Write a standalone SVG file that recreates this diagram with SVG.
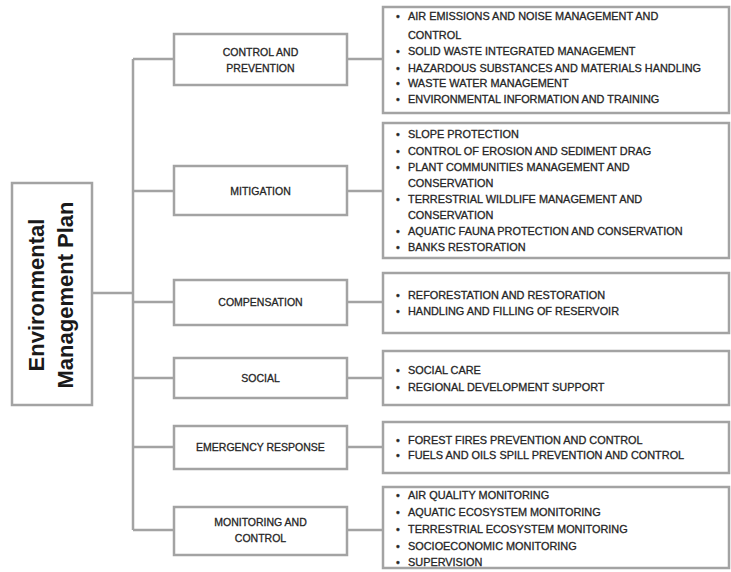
<svg xmlns="http://www.w3.org/2000/svg" width="731" height="572" viewBox="0 0 731 572">
<style>
.box{fill:#fff;stroke:#a3a3a3;stroke-width:2.5}
.ln{fill:none;stroke:#a3a3a3;stroke-width:2.5}
.cat{font-family:"Liberation Sans",Arial,sans-serif;font-size:10.5px;fill:#262626;stroke:#262626;stroke-width:0.3;text-anchor:middle}
.it{font-family:"Liberation Sans",Arial,sans-serif;font-size:10.9px;fill:#262626;stroke:#262626;stroke-width:0.3}
.root{font-family:"Liberation Sans",Arial,sans-serif;font-size:22px;font-weight:bold;fill:#1a1a1a;text-anchor:middle}
</style>
<rect width="731" height="572" fill="#fff"/>
<g id="connectors">
<path class="ln" d="M92 293H133M133 59V530M133 59H174M133 191H174M133 302H174M133 378H174M133 447H174M133 530H174"/>
<path class="ln" d="M347 59H383M347 191H383M347 302H383M347 378H383M347 447H383M347 530H383"/>
</g>
<g id="root">
<rect class="box" x="12" y="183" width="80" height="222"/>
<text class="root" transform="translate(44 295) rotate(-90)">Environmental</text>
<text class="root" transform="translate(73 295) rotate(-90)">Management Plan</text>
</g>
<g id="cat-control">
<rect class="box" x="174" y="34" width="173" height="51"/>
<text class="cat" x="260.5" y="55.5">CONTROL AND</text>
<text class="cat" x="260.5" y="71.5">PREVENTION</text>
</g>
<g id="cat-mitigation">
<rect class="box" x="174" y="166" width="173" height="49"/>
<text class="cat" x="260.5" y="195">MITIGATION</text>
</g>
<g id="cat-compensation">
<rect class="box" x="174" y="280" width="173" height="45"/>
<text class="cat" x="260.5" y="306">COMPENSATION</text>
</g>
<g id="cat-social">
<rect class="box" x="174" y="358" width="173" height="40"/>
<text class="cat" x="260.5" y="382">SOCIAL</text>
</g>
<g id="cat-emergency">
<rect class="box" x="174" y="426" width="173" height="43"/>
<text class="cat" x="260.5" y="451">EMERGENCY RESPONSE</text>
</g>
<g id="cat-monitoring">
<rect class="box" x="174" y="507" width="173" height="48"/>
<text class="cat" x="260.5" y="526">MONITORING AND</text>
<text class="cat" x="260.5" y="542">CONTROL</text>
</g>
<g id="list-control">
<rect class="box" x="383" y="7" width="346" height="106"/>
<text class="it" x="396" y="20">•</text><text class="it" x="408" y="20">AIR EMISSIONS AND NOISE MANAGEMENT AND</text>
<text class="it" x="408" y="38.7">CONTROL</text>
<text class="it" x="396" y="55">•</text><text class="it" x="408" y="55">SOLID WASTE INTEGRATED MANAGEMENT</text>
<text class="it" x="396" y="71.7">•</text><text class="it" x="408" y="71.7">HAZARDOUS SUBSTANCES AND MATERIALS HANDLING</text>
<text class="it" x="396" y="87.3">•</text><text class="it" x="408" y="87.3">WASTE WATER MANAGEMENT</text>
<text class="it" x="396" y="103.3">•</text><text class="it" x="408" y="103.3">ENVIRONMENTAL INFORMATION AND TRAINING</text>
</g>
<g id="list-mitigation">
<rect class="box" x="383" y="123" width="346" height="135"/>
<text class="it" x="396" y="138.3">•</text><text class="it" x="408" y="138.3">SLOPE PROTECTION</text>
<text class="it" x="396" y="154.5">•</text><text class="it" x="408" y="154.5">CONTROL OF EROSION AND SEDIMENT DRAG</text>
<text class="it" x="396" y="170.7">•</text><text class="it" x="408" y="170.7">PLANT COMMUNITIES MANAGEMENT AND</text>
<text class="it" x="408" y="186.7">CONSERVATION</text>
<text class="it" x="396" y="203">•</text><text class="it" x="408" y="203">TERRESTRIAL WILDLIFE MANAGEMENT AND</text>
<text class="it" x="408" y="219">CONSERVATION</text>
<text class="it" x="396" y="234.7">•</text><text class="it" x="408" y="234.7">AQUATIC FAUNA PROTECTION AND CONSERVATION</text>
<text class="it" x="396" y="250.7">•</text><text class="it" x="408" y="250.7">BANKS RESTORATION</text>
</g>
<g id="list-compensation">
<rect class="box" x="383" y="273" width="346" height="60"/>
<text class="it" x="396" y="298.5">•</text><text class="it" x="408" y="298.5">REFORESTATION AND RESTORATION</text>
<text class="it" x="396" y="314.7">•</text><text class="it" x="408" y="314.7">HANDLING AND FILLING OF RESERVOIR</text>
</g>
<g id="list-social">
<rect class="box" x="383" y="351" width="346" height="54"/>
<text class="it" x="396" y="374">•</text><text class="it" x="408" y="374">SOCIAL CARE</text>
<text class="it" x="396" y="390.5">•</text><text class="it" x="408" y="390.5">REGIONAL DEVELOPMENT SUPPORT</text>
</g>
<g id="list-emergency">
<rect class="box" x="383" y="422" width="346" height="51"/>
<text class="it" x="396" y="443.5">•</text><text class="it" x="408" y="443.5">FOREST FIRES PREVENTION AND CONTROL</text>
<text class="it" x="396" y="459">•</text><text class="it" x="408" y="459">FUELS AND OILS SPILL PREVENTION AND CONTROL</text>
</g>
<g id="list-monitoring">
<rect class="box" x="383" y="487" width="346" height="81"/>
<text class="it" x="396" y="499">•</text><text class="it" x="408" y="499">AIR QUALITY MONITORING</text>
<text class="it" x="396" y="516">•</text><text class="it" x="408" y="516">AQUATIC ECOSYSTEM MONITORING</text>
<text class="it" x="396" y="533">•</text><text class="it" x="408" y="533">TERRESTRIAL ECOSYSTEM MONITORING</text>
<text class="it" x="396" y="549.5">•</text><text class="it" x="408" y="549.5">SOCIOECONOMIC MONITORING</text>
<text class="it" x="396" y="566">•</text><text class="it" x="408" y="566">SUPERVISION</text>
</g>
</svg>
